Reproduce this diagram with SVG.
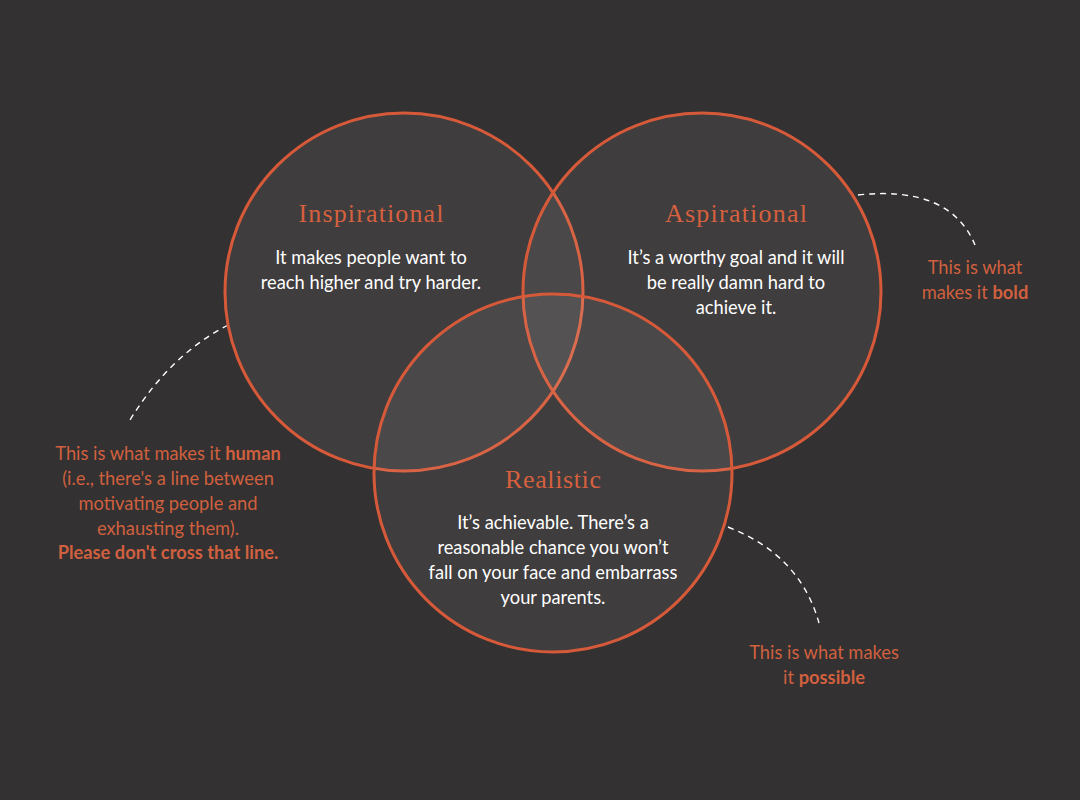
<svg xmlns="http://www.w3.org/2000/svg" width="1080" height="800" viewBox="0 0 1080 800">
  <style>
    .circle { fill: #ffffff; fill-opacity: 0.06; stroke: #d65a3a; stroke-width: 3; }
    .title { font-family: "Liberation Serif", "DejaVu Serif", serif; font-size: 26px; fill: #d6603f; text-anchor: middle; }
    .body { font-family: Lato, "Open Sans", sans-serif; font-size: 18.3px; fill: #ffffff; text-anchor: middle; }
    .note { font-family: Lato, "Open Sans", sans-serif; font-size: 18.3px; fill: #d0603f; text-anchor: middle; }
    .note .b { font-weight: 700; }
    .dash { fill: none; stroke: #ffffff; stroke-width: 1.4; stroke-dasharray: 6 5; }
  </style>
  <rect width="1080" height="800" fill="#333131"/>

  <g id="connectors">
    <path class="dash" d="M228,325 Q170,355 130,420"/>
    <path class="dash" d="M858,195 Q950,185 975,245"/>
    <path class="dash" d="M728,527 Q800,555 819,623"/>
  </g>

  <g id="inspirational">
    <circle class="circle" cx="404" cy="292" r="179"/>
    <text class="title" x="371" y="222" textLength="145">Inspirational</text>
    <text class="body" x="371" y="264">It makes people want to</text>
    <text class="body" x="371" y="289">reach higher and try harder.</text>
  </g>

  <g id="aspirational">
    <circle class="circle" cx="702" cy="292" r="179"/>
    <text class="title" x="736" y="222" textLength="142">Aspirational</text>
    <text class="body" x="736" y="264">It’s a worthy goal and it will</text>
    <text class="body" x="736" y="289">be really damn hard to</text>
    <text class="body" x="736" y="314">achieve it.</text>
  </g>

  <g id="realistic">
    <circle class="circle" cx="553" cy="473" r="179"/>
    <text class="title" x="553" y="488" textLength="96">Realistic</text>
    <text class="body" x="553" y="529">It’s achievable. There’s a</text>
    <text class="body" x="553" y="554">reasonable chance you won’t</text>
    <text class="body" x="553" y="579">fall on your face and embarrass</text>
    <text class="body" x="553" y="604">your parents.</text>
  </g>

  <g id="note-human">
    <text class="note" x="168" y="460">This is what makes it <tspan class="b">human</tspan></text>
    <text class="note" x="168" y="485">(i.e., there's a line between</text>
    <text class="note" x="168" y="510">motivating people and</text>
    <text class="note" x="168" y="535">exhausting them).</text>
    <text class="note" x="168" y="559"><tspan class="b">Please don't cross that line.</tspan></text>
  </g>

  <g id="note-bold">
    <text class="note" x="975" y="274">This is what</text>
    <text class="note" x="975" y="299">makes it <tspan class="b">bold</tspan></text>
  </g>

  <g id="note-possible">
    <text class="note" x="824" y="659">This is what makes</text>
    <text class="note" x="824" y="684">it <tspan class="b">possible</tspan></text>
  </g>
</svg>
